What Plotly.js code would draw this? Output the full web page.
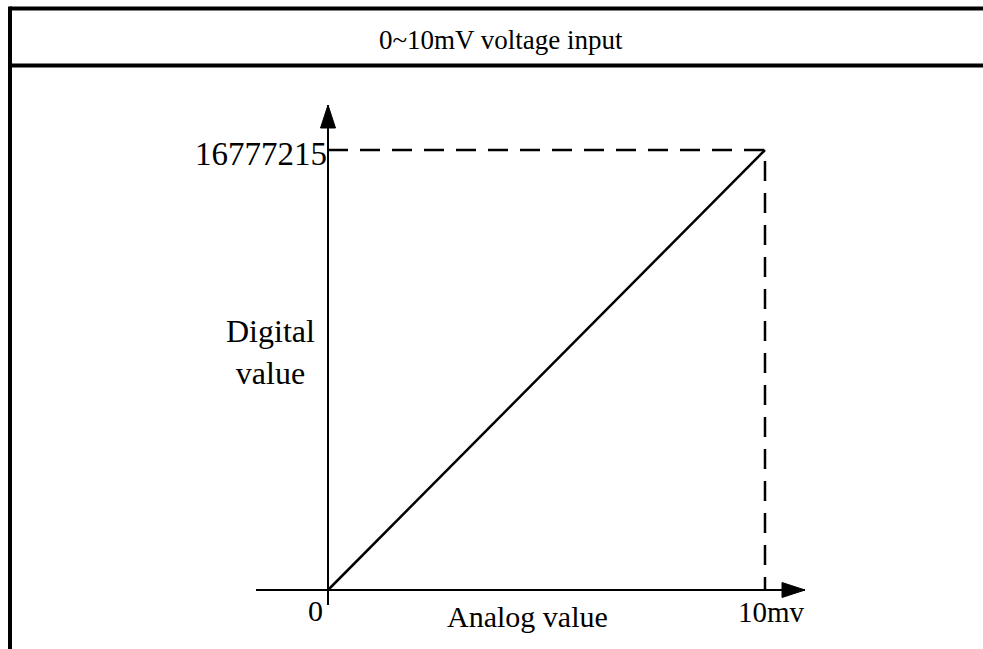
<!DOCTYPE html>
<html>
<head>
<meta charset="utf-8">
<script src="https://cdn.plot.ly/plotly-3.0.1.min.js"></script>
<style>
  html, body { margin: 0; padding: 0; background: #fff; }
  #chart { width: 983px; height: 649px; }
</style>
</head>
<body>
<div id="chart"></div>
<script>
// data
const analogRange = [0, 10];          // mV
const digitalRange = [0, 16777215];   // counts
const yTickText = '16777215';
const xTickText = ['0', '10mv'];
const headerText = '0~10mV voltage input';
const yLabel = 'Digital<br>value';
const xLabel = 'Analog value';

// plot box in pixels
const W = 983, H = 649;
const L = 256, R = 805, T = 105, B = 605;
const ORIGIN_X = 328, ORIGIN_Y = 590, END_X = 765, END_Y = 150;

const kx = (END_X - ORIGIN_X) / (analogRange[1] - analogRange[0]);
const ky = (ORIGIN_Y - END_Y) / (digitalRange[1] - digitalRange[0]);
const xr = [(L - ORIGIN_X) / kx, (R - ORIGIN_X) / kx];
const yr = [-(B - ORIGIN_Y) / ky, (ORIGIN_Y - T) / ky];

// pixel -> paper helpers for the frame and labels
const px = p => (p - L) / (R - L);
const py = p => (B - p) / (B - T);

const serif = '"Liberation Serif", "Times New Roman", serif';

const traces = [
    {
        x: analogRange,
        y: digitalRange,
        mode: 'lines',
        line: { color: '#000', width: 2.5 },
        hoverinfo: 'none'
    },
    {
        x: [analogRange[0], analogRange[1], analogRange[1]],
        y: [digitalRange[1], digitalRange[1], digitalRange[0]],
        mode: 'lines',
        line: { color: '#000', width: 2.5, dash: '20px,12px' },
        hoverinfo: 'none'
    }
];

const frame = { color: '#000', width: 4 };
const shapes = [
    // table frame
    { type: 'line', xref: 'paper', yref: 'paper', x0: px(10), x1: px(W + 20), y0: py(8.5), y1: py(8.5), line: frame },
    { type: 'line', xref: 'paper', yref: 'paper', x0: px(10), x1: px(W + 20), y0: py(65.5), y1: py(65.5), line: frame },
    { type: 'line', xref: 'paper', yref: 'paper', x0: px(10), x1: px(10), y0: py(6.5), y1: py(H + 20), line: frame },
    // arrow heads
    { type: 'path', xref: 'x', yref: 'paper', xsizemode: 'pixel', ysizemode: 'pixel',
      xanchor: 0, yanchor: 1, path: 'M-7.5,-23 L7.5,-23 L0,0 Z',
      fillcolor: '#000', line: { color: '#000', width: 1 } },
    { type: 'path', xref: 'paper', yref: 'y', xsizemode: 'pixel', ysizemode: 'pixel',
      xanchor: 1, yanchor: 0, path: 'M-23,-7.5 L-23,7.5 L0,0 Z',
      fillcolor: '#000', line: { color: '#000', width: 1 } }
];

const annotations = [
    { text: headerText, xref: 'paper', yref: 'paper', x: px(501), y: py(40),
      xanchor: 'center', yanchor: 'middle', showarrow: false,
      font: { family: serif, size: 27, color: '#000' } },
    { text: yTickText, xref: 'paper', yref: 'paper', x: px(329), y: py(154),
      xanchor: 'right', yanchor: 'middle', showarrow: false,
      font: { family: serif, size: 33, color: '#000' } },
    { text: yLabel, xref: 'paper', yref: 'paper', x: px(270), y: py(352),
      xanchor: 'center', yanchor: 'middle', showarrow: false,
      font: { family: serif, size: 32, color: '#000' } },
    { text: xTickText[0], xref: 'paper', yref: 'paper', x: px(315), y: py(610),
      xanchor: 'center', yanchor: 'middle', showarrow: false,
      font: { family: serif, size: 30, color: '#000' } },
    { text: xLabel, xref: 'paper', yref: 'paper', x: px(527), y: py(616),
      xanchor: 'center', yanchor: 'middle', showarrow: false,
      font: { family: serif, size: 30, color: '#000' } },
    { text: xTickText[1], xref: 'paper', yref: 'paper', x: px(771), y: py(612),
      xanchor: 'center', yanchor: 'middle', showarrow: false,
      font: { family: serif, size: 29, color: '#000' } }
];

const layout = {
    width: W,
    height: H,
    margin: { l: L, r: W - R, t: T, b: H - B, pad: 0 },
    paper_bgcolor: '#fff',
    plot_bgcolor: 'rgba(0,0,0,0)',
    showlegend: false,
    xaxis: {
        range: xr, showgrid: false, showticklabels: false, ticks: '',
        zeroline: true, zerolinecolor: '#000', zerolinewidth: 2.5, showline: false, fixedrange: true
    },
    yaxis: {
        range: yr, showgrid: false, showticklabels: false, ticks: '',
        zeroline: true, zerolinecolor: '#000', zerolinewidth: 2.5, showline: false, fixedrange: true
    },
    shapes: shapes,
    annotations: annotations
};

Plotly.newPlot('chart', traces, layout, { displayModeBar: false, staticPlot: true });
</script>
</body>
</html>
